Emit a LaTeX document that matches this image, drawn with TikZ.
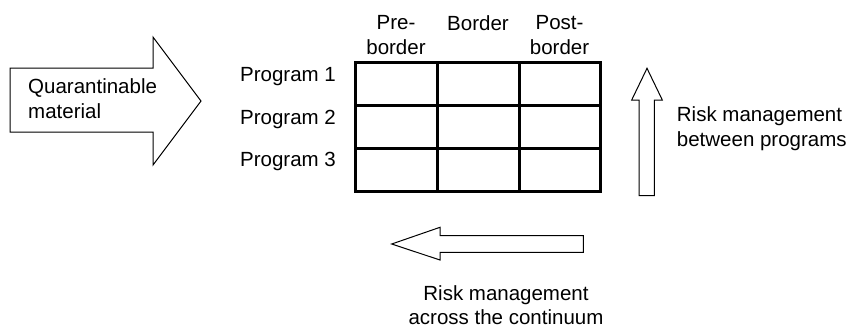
\documentclass[tikz,border=0pt]{standalone}
\usepackage{fontspec}
\setmainfont{Liberation Sans}
\begin{document}
\begin{tikzpicture}[x=1bp,y=-1bp,
  lbl/.style={inner sep=0pt, font=\fontsize{20.5bp}{24.5bp}\selectfont},
  bigarrow/.style={draw=black, line width=1bp, fill=white, line join=miter},
  gridline/.style={draw=black, line width=3bp, line cap=rect}]
\useasboundingbox (0,0) rectangle (851,329);
% input arrow
\draw[bigarrow] (10,68) -- (153,68) -- (153,37) -- (201,101) -- (153,165) -- (153,132) -- (10,132) -- cycle;
\node[lbl, anchor=base west, align=left] (qm) at (28,118) {Quarantinable\\material};
% grid
\foreach \x in {355,437,519,600} \draw[gridline] (\x,62) -- (\x,191);
\foreach \y in {62,105,148,191} \draw[gridline] (355,\y) -- (600,\y);
% column headers
\node[lbl, anchor=base, align=center] (pre) at (396,54) {Pre-\\border};
\node[lbl, anchor=base] (bor) at (478,30.5) {Border};
\node[lbl, anchor=base, align=center] (post) at (559.5,54) {Post-\\border};
% row labels
\node[lbl, anchor=base west] (p1) at (240,81.7) {Program 1};
\node[lbl, anchor=base west] (p2) at (240,124.5) {Program 2};
\node[lbl, anchor=base west] (p3) at (240,166) {Program 3};
% up arrow
\draw[bigarrow] (639,195.7) -- (639,100) -- (631.7,100) -- (647,68.3) -- (662.3,100) -- (654.3,100) -- (654.3,195.7) -- cycle;
\node[lbl, anchor=base west, align=left] (rb) at (676.7,146) {Risk management\\between programs};
% left arrow
\draw[bigarrow] (583.3,235.7) -- (440,235.7) -- (440,227.3) -- (391.7,244) -- (440,260) -- (440,252.3) -- (583.3,252.3) -- cycle;
\node[lbl, anchor=base, align=center] (rc) at (506,324.5) {Risk management\\across the continuum};
\end{tikzpicture}
\end{document}
